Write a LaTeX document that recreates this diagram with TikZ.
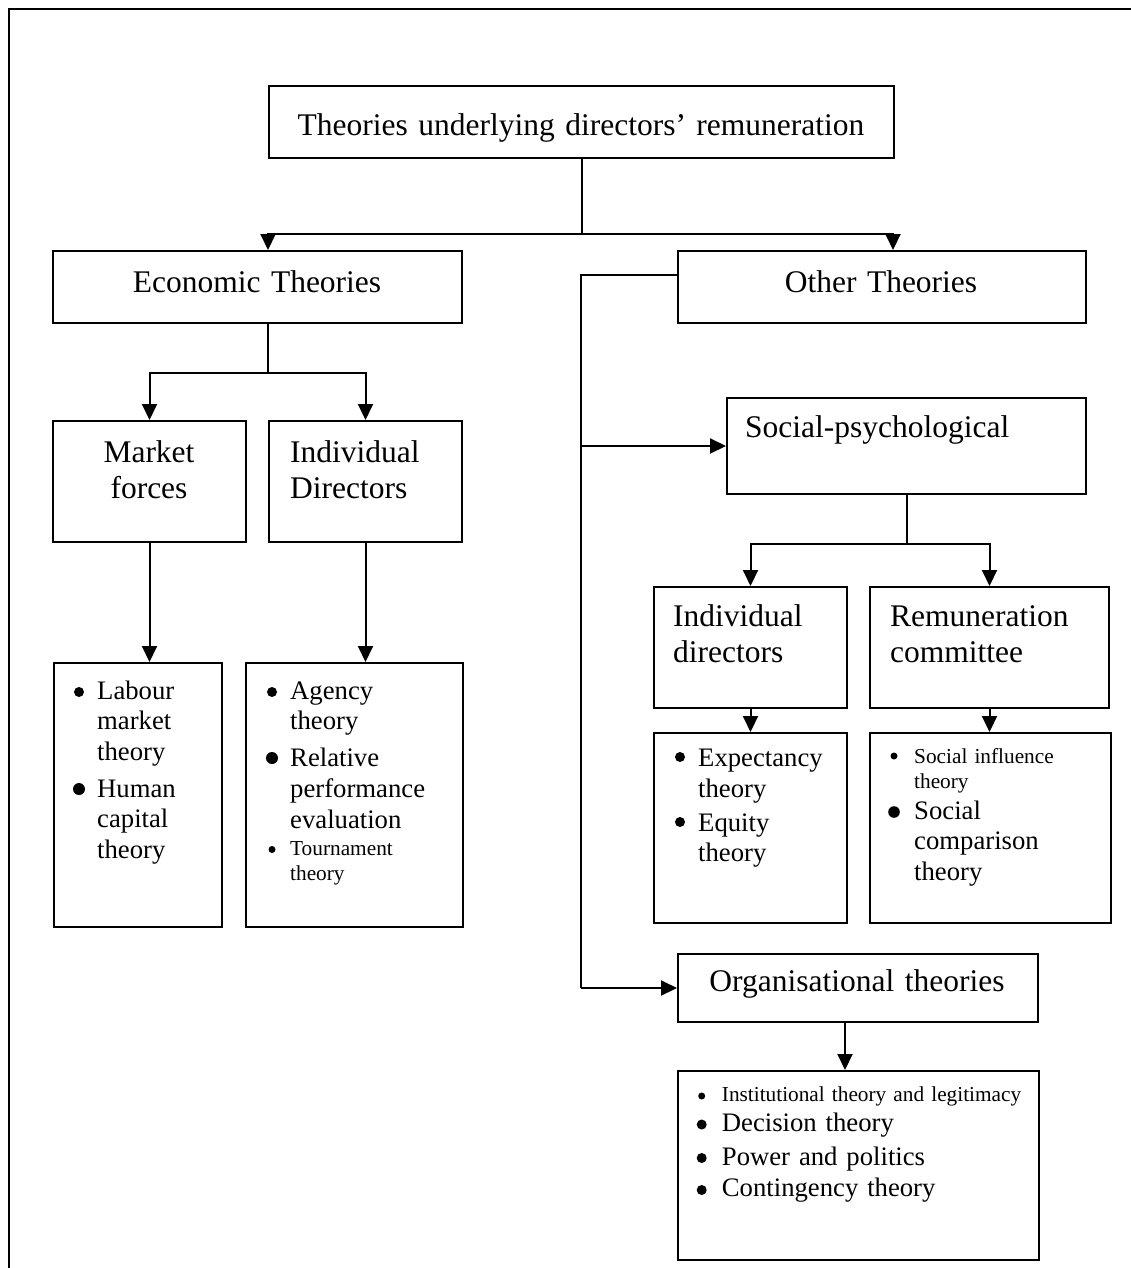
\documentclass[tikz,border=0pt]{standalone}
\usepackage{fontspec}
\setmainfont{Liberation Serif}
\usetikzlibrary{arrows.meta,calc}
\newcommand\ftw{\fontsize{31.5}{36.8}\selectfont}
\newcommand\ften{\fontsize{26.7}{30.9}\selectfont}
\newcommand\feig{\fontsize{21.3}{25}\selectfont}
\begin{document}
\begin{tikzpicture}[x=1pt,y=-1pt,
  box/.style={draw, line width=2pt, inner sep=0pt, anchor=north west},
  txt/.style={inner sep=0pt, anchor=base west, align=left, text width=300pt},
  ctxt/.style={inner sep=0pt, anchor=base, align=center, text width=600pt},
  conn/.style={line width=2pt},
  arr/.style={conn, -{Triangle[length=16pt,width=15pt]}},
  bul/.style={fill=black}
]
\useasboundingbox (0,0) rectangle (1131,1268);
% outer frame
\draw[line width=2.5pt] (9,1268) -- (9,9) -- (1131,9);

% boxes
\node[box, minimum width=625pt, minimum height=72pt] (T) at (268,85) {};
\node[box, minimum width=409pt, minimum height=72pt] (E) at (52,250) {};
\node[box, minimum width=408pt, minimum height=72pt] (O) at (677,250) {};
\node[box, minimum width=193pt, minimum height=121pt] (M) at (52,420) {};
\node[box, minimum width=193pt, minimum height=121pt] (I) at (268,420) {};
\node[box, minimum width=168pt, minimum height=264pt] (L) at (53,662) {};
\node[box, minimum width=217pt, minimum height=264pt] (A) at (245,662) {};
\node[box, minimum width=359pt, minimum height=96pt] (S) at (726,397) {};
\node[box, minimum width=193pt, minimum height=121pt] (ID) at (653,586) {};
\node[box, minimum width=239pt, minimum height=121pt] (RC) at (869,586) {};
\node[box, minimum width=193pt, minimum height=190pt] (X) at (653,732) {};
\node[box, minimum width=241pt, minimum height=190pt] (Y) at (869,732) {};
\node[box, minimum width=360pt, minimum height=68pt] (OR) at (677,953) {};
\node[box, minimum width=361pt, minimum height=189pt] (Z) at (677,1070) {};

% box titles
\node[ctxt, font=\ftw] (Tt) at (581,136) {Theories underlying directors’ remuneration};
\node[ctxt, font=\ftw] (Et) at (257,292) {Economic Theories};
\node[ctxt, font=\ftw] (Ot) at (881,292) {Other Theories};
\node[ctxt, font=\ftw, text width=190pt] (Mt) at (149,462) {Market\\forces};
\node[txt, font=\ftw] (It) at (290,462) {Individual\\Directors};
\node[txt, font=\ftw] (St) at (745,437) {Social-psychological};
\node[txt, font=\ftw] (IDt) at (673,626) {Individual\\directors};
\node[txt, font=\ftw] (RCt) at (890,626) {Remuneration\\committee};
\node[ctxt, font=\ftw] (ORt) at (857,991) {Organisational theories};

% bullet lists
\fill[bul] (79,692) circle[radius=5pt];
\node[txt, font=\ften] (L1) at (97,699) {Labour\\market\\theory};
\fill[bul] (79,789) circle[radius=6pt];
\node[txt, font=\ften] (L2) at (97,797) {Human\\capital\\theory};

\fill[bul] (272,692) circle[radius=5pt];
\node[txt, font=\ften] (A1) at (290,699) {Agency\\theory};
\fill[bul] (272,758) circle[radius=6pt];
\node[txt, font=\ften] (A2) at (290,766.7) {Relative\\performance\\evaluation};
\fill[bul] (272,849.5) circle[radius=3.5pt];
\node[txt, font=\feig] (A3) at (290,855) {Tournament\\theory};

\fill[bul] (680,757) circle[radius=5pt];
\node[txt, font=\ften] (X1) at (698,766.7) {Expectancy\\theory};
\fill[bul] (680,822) circle[radius=5pt];
\node[txt, font=\ften] (X2) at (698,831) {Equity\\theory};

\fill[bul] (894,756) circle[radius=3.5pt];
\node[txt, font=\feig] (Y1) at (914,763.3) {Social influence\\theory};
\fill[bul] (894,812) circle[radius=5.8pt];
\node[txt, font=\ften] (Y2) at (914,819) {Social\\comparison\\theory};

\fill[bul] (701.7,1096) circle[radius=3.5pt];
\node[txt, font=\feig] (Z1) at (721.7,1101.7) {Institutional theory and legitimacy};
\fill[bul] (701.7,1124.5) circle[radius=5pt];
\node[txt, font=\ften] (Z2) at (721.7,1131.7) {Decision theory};
\fill[bul] (701.7,1158) circle[radius=5pt];
\node[txt, font=\ften] (Z3) at (721.7,1165) {Power and politics};
\fill[bul] (701.7,1190) circle[radius=5pt];
\node[txt, font=\ften] (Z4) at (721.7,1196.7) {Contingency theory};

% connectors
\draw[arr] (T.south) -- ++(0,75) -| ($(E.north west)+(216,0)$);
\draw[arr] (T.south) -- ++(0,75) -| ($(O.north west)+(216,0)$);

\coordinate (eb) at ($(E.south west)+(216,0)$);
\draw[arr] (eb) -- ++(0,49) -| (M.north);
\draw[arr] (eb) -- ++(0,49) -| (I.north);
\draw[arr] (M.south) -- (M.south |- L.north);
\draw[arr] (I.south) -- (I.south |- A.north);

\coordinate (vt) at (581,275);
\draw[conn] ($(O.north west)+(0,25)$) -- (vt) -- (vt |- OR.west);
\draw[arr] (vt |- S.west) -- (S.west);
\draw[arr] (vt |- OR.west) -- (OR.west);

\draw[arr] (S.south) -- ++(0,49) -| (ID.north);
\draw[arr] (S.south) -- ++(0,49) -| (RC.north);
\draw[arr] (ID.south) -- (ID.south |- X.north);
\draw[arr] (RC.south) -- (RC.south |- Y.north);
\coordinate (ob) at ($(OR.south west)+(168,0)$);
\draw[arr] (ob) -- (ob |- Z.north);
\end{tikzpicture}
\end{document}
